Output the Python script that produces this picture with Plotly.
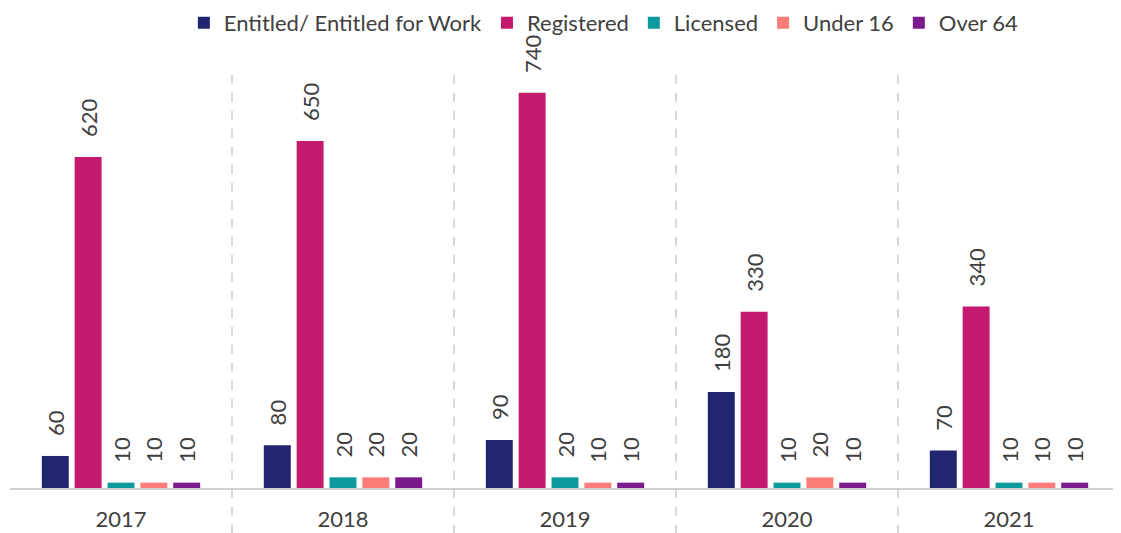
import plotly.graph_objects as go

years = ["2017", "2018", "2019", "2020", "2021"]
series_names = ["Entitled/ Entitled for Work", "Registered", "Licensed", "Under 16", "Over 64"]
entitled = [60, 80, 90, 180, 70]
registered = [620, 650, 740, 330, 340]
licensed = [10, 20, 20, 10, 10]
under16 = [10, 20, 10, 20, 10]
over64 = [10, 20, 10, 10, 10]
colors = ["#21246f", "#c3196e", "#0d9a9e", "#fb7b78", "#7a1a8c"]

values = [entitled, registered, licensed, under16, over64]

fig = go.Figure()
for name, vals, col in zip(series_names, values, colors):
    fig.add_trace(go.Bar(
        x=years, y=vals, name=name, marker_color=col,
        marker_line_width=0,
        text=["\u00a0\u00a0\u00a0" + str(v) for v in vals], textposition="outside",
        textangle=-90, cliponaxis=False, constraintext="none",
        textfont=dict(size=22, color="#404040", family="Lato"),
    ))

shapes = []
for i in range(1, len(years)):
    xpos = i / len(years)
    shapes.append(dict(type="line", xref="paper", yref="paper",
                       x0=xpos, x1=xpos, y0=-0.11, y1=1.0,
                       line=dict(color="#bfbfbf", width=1.2, dash="dash")))

fig.update_layout(
    width=1121, height=533,
    margin=dict(l=2, r=9, t=64, b=53),
    plot_bgcolor="white", paper_bgcolor="white",
    barmode="group", bargap=0.26, bargroupgap=0.18,
    font=dict(family="Lato", color="#404040"),
    legend=dict(orientation="h", x=0.535, xanchor="center", y=0.972, yref="container", yanchor="middle",
                font=dict(size=22, color="#404040"), traceorder="normal",
                itemwidth=30, bgcolor="rgba(0,0,0,0)", borderwidth=0),
    shapes=shapes,
    showlegend=True,
)
fig.update_xaxes(showline=True, linecolor="#d0d0d0", linewidth=1.5, ticks="",
                 tickfont=dict(size=22, color="#404040"), showgrid=False,
                 ticklabelstandoff=11)
fig.update_yaxes(range=[0, 779], visible=False, showgrid=False)

fig.write_html("out.html")
